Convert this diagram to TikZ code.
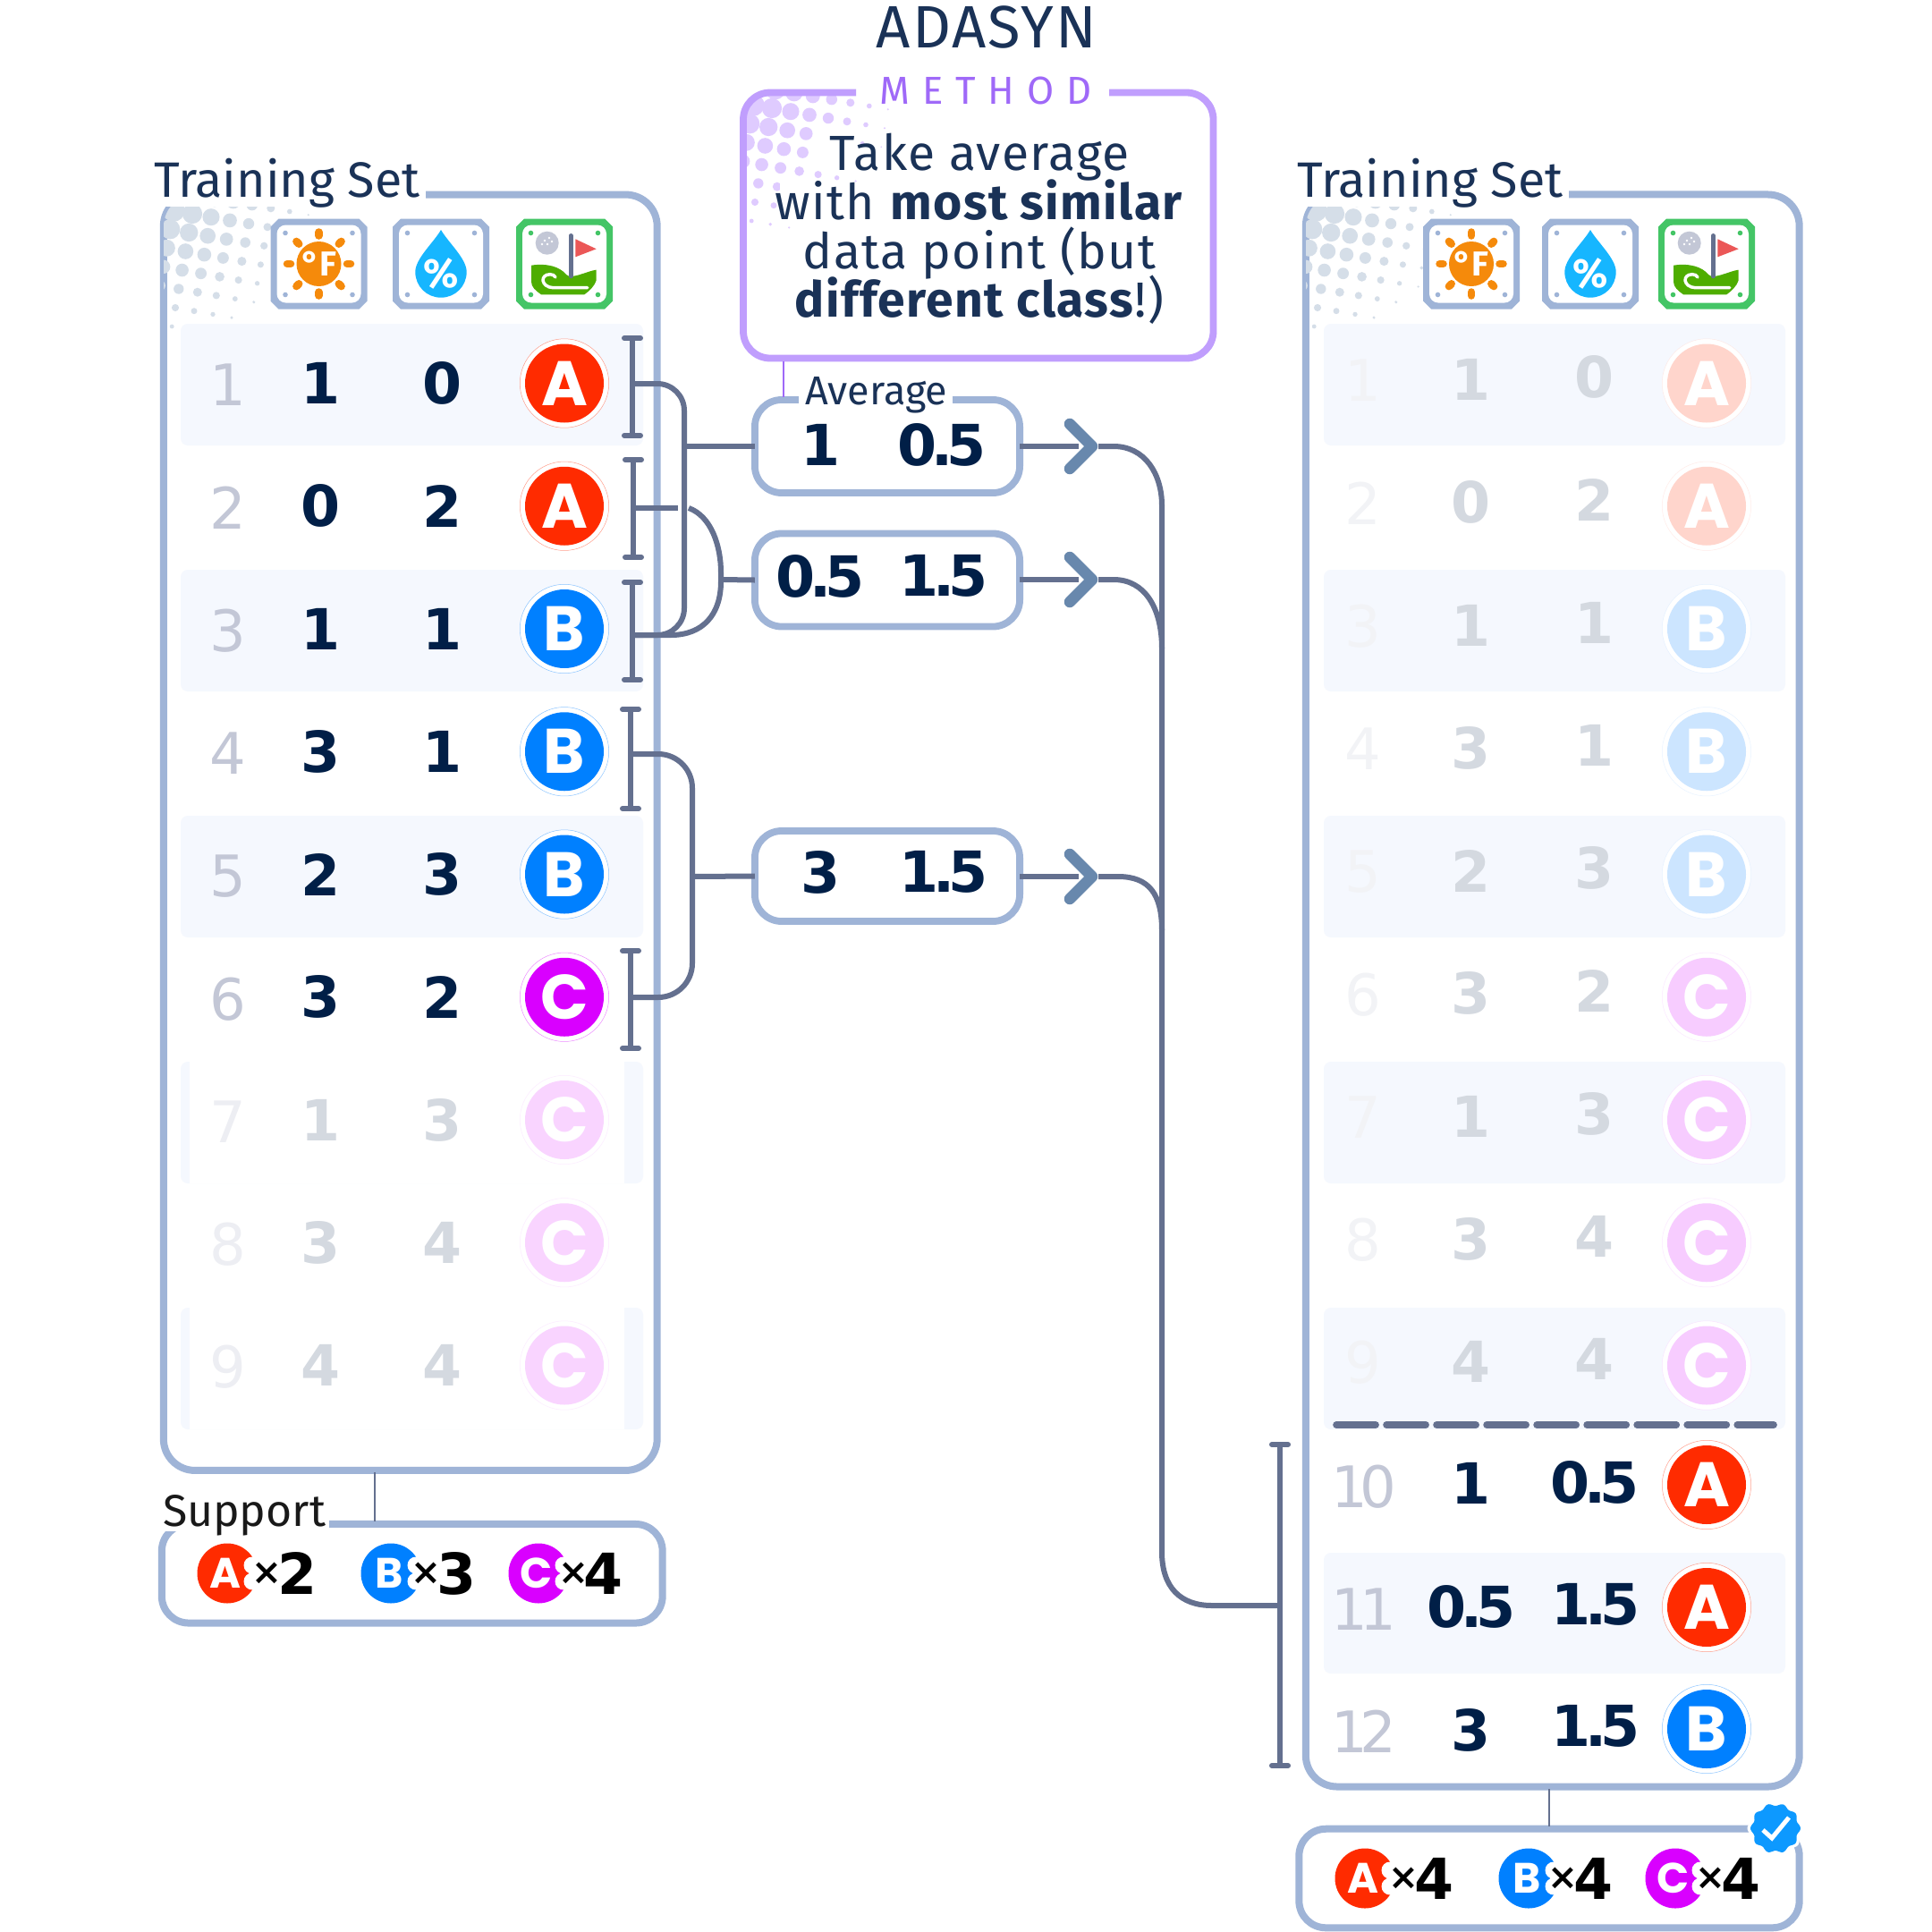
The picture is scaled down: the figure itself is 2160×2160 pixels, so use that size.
\documentclass[tikz,border=0pt]{standalone}
\usepackage{fontspec}
\setmainfont{Fira Sans}
\newfontfamily\digf{DejaVu Sans}
\newfontfamily\badgef{Poppins}
\newfontfamily\spacedf{Fira Sans}[LetterSpace=32]
\newfontfamily\bodyf{Fira Sans}[LetterSpace=2.5]
\newfontfamily\titlef{Fira Sans}[LetterSpace=3]
\definecolor{clsA}{HTML}{FF2B00}
\definecolor{clsB}{HTML}{0080FF}
\definecolor{clsC}{HTML}{D900FF}
\definecolor{panelc}{HTML}{9FB4D7}
\definecolor{bandc}{HTML}{F5F8FE}
\definecolor{linec}{HTML}{64708F}
\definecolor{navy}{HTML}{1A3257}
\definecolor{digc}{HTML}{011F47}
\definecolor{numc}{HTML}{C3C7D6}
\definecolor{purp}{HTML}{C09EFD}
\definecolor{purpd}{HTML}{9F69F8}
\definecolor{chev}{HTML}{6888AD}
\definecolor{greenb}{HTML}{44C566}
\definecolor{greend}{HTML}{D5DEE8}
\definecolor{purpl}{HTML}{DFCBFF}
\tikzset{
 panel/.style={draw=panelc,line width=.08cm,fill=white,rounded corners=.35cm,inner sep=0,outer sep=0},
 valbox/.style={draw=panelc,line width=.078cm,fill=white,rounded corners=.3cm,inner sep=0,outer sep=0,minimum width=2.96cm},
 wire/.style={draw=linec,line width=.06cm},
 bracketl/.style={draw=linec,line width=.06cm},
 capl/.style={draw=linec,line width=.06cm,line cap=round},
 chevl/.style={draw=chev,line width=.125cm,line cap=round,line join=round},
 thinl/.style={draw=linec,line width=.018cm},
 digit/.style={font=\digf\bfseries\fontsize{18}{20}\selectfont,inner sep=0,outer sep=0},
 rownum/.style={font=\digf\fontsize{18.2}{20}\selectfont,inner sep=0,outer sep=0},
 lab/.style={inner sep=0,outer sep=0,text=navy,anchor=base west},
}
\newcommand\pdot{\kern-2pt.\kern-2pt}
\newcommand\halftone[3]{%
 \foreach \i in {-2,...,7}{\foreach \j in {-2,...,7}{%
  \pgfmathsetmacro\dx{32+21*\i-3.8*\j}%
  \pgfmathsetmacro\dy{21+3.7*\i+21*\j}%
  \pgfmathsetmacro\rr{14.2-0.08*veclen(\dx,\dy)}%
  \pgfmathparse{\rr>0.8?1:0}%
  \ifnum\pgfmathresult=1 \fill[#3] (#1+\dx,#2+\dy) circle[radius=\rr];\fi
 }}}
\newcommand\badge[6]{% name x y letter pct radius
 \fill[white] (#2,#3) circle[radius=#6*1.13];
 \draw[cls#4!#5!white,draw opacity=.45,line width=.005cm] (#2,#3) circle[radius=#6*1.13];
 \fill[cls#4!#5!white] (#2,#3) circle[radius=#6];
 \node[inner sep=0,outer sep=0,text=white,font=\badgef\bfseries\fontsize{20}{22}\selectfont] (#1) at (#2,#3) {#4};}
\newcommand\chip[1]{% chamfered square base in colour #1
 \fill[#1] (-54,-41.5) -- (-45,-50.5) -- (45,-50.5) -- (54,-41.5) -- (54,41.5) -- (45,50.5) -- (-45,50.5) -- (-54,41.5) -- cycle;
 \fill[white,rounded corners=.1cm] (-47,-43.5) rectangle (47,43.5);
 \foreach \sx in {-1,1}{\foreach \sy in {-1,1}{\fill[#1] (37.5*\sx,34.5*\sy) circle[radius=2.8];}}}
\newcommand\sunicon[3]{\begin{scope}[shift={(#2,#3)}]
 \chip{panelc}
 \definecolor{sunc}{HTML}{F58A0B}
 \fill[sunc] (0,0) circle[radius=25];
 \foreach \a in {0,45,...,315}{\draw[sunc,line width=.085cm,line cap=round] (\a:31.5) -- (\a:35.5);}
 \node[inner sep=0,outer sep=0,text=white,font=\fontsize{11}{12}\selectfont\bfseries] (#1) at (0,0) {°F};
 \end{scope}}
\newcommand\dropicon[3]{\begin{scope}[shift={(#2,#3)}]
 \chip{panelc}
 \definecolor{dropc}{HTML}{16B6FF}
 \fill[dropc] (0,-38) .. controls (8,-24) and (28.7,-6) .. (28.7,9) .. controls (28.7,25) and (16,37.7) .. (0,37.7) .. controls (-16,37.7) and (-28.7,25) .. (-28.7,9) .. controls (-28.7,-6) and (-8,-24) .. cycle;
 \node[inner sep=0,outer sep=0,text=white,font=\fontsize{13}{14}\selectfont\bfseries] (#1) at (0,11) {\%};
 \end{scope}}
\newcommand\golficon[1]{\begin{scope}[shift={(#1)}]
 \chip{greenb}
 \fill[numc] (-19.3,-23.3) circle[radius=13];
 \foreach \p in {(-22,-26),(-17,-29),(-14,-25),(-19,-22),(-25,-22)}{\fill[white] \p circle[radius=1.3];}
 \definecolor{landc}{HTML}{4EAD00}
 \fill[landc] (-37,1.7) .. controls (-20,-1) and (-5,3) .. (2,12) .. controls (8,18) and (25,8) .. (35.7,6.7) -- (35.7,18.3) .. controls (33,26) and (28,30) .. (22.3,34.3) -- (-26,34.3) .. controls (-32,30) and (-37,26) .. (-37,20) -- cycle;
 \draw[white,line width=.035cm,line cap=round] (25.7,26.7) -- (-12.7,26.7) .. controls (-26,26) and (-28,12) .. (-16,11.7) .. controls (-13,11.7) and (-11,13) .. (-10,15);
 \draw[linec,line width=.045cm,line cap=round] (7.3,-31.7) -- (7.3,14);
 \definecolor{flagc}{HTML}{EB5757}
 \fill[flagc] (12.3,-27.7) -- (35.7,-16.7) -- (12.3,-7.7) -- cycle;
 \end{scope}}
\newcommand\supportitem[6]{% prefix badge-x letter x-x digit-x digit ; y via \supy
 \fill[cls#3] (#2,\supy) circle[radius=33.5];
 \node[inner sep=0,outer sep=0,text=white,font=\badgef\bfseries\fontsize{13.5}{15}\selectfont] (#1l) at (#2-2,\supy) {#3};
 \fill[white] (#2+28,\supy-9) circle[radius=9.5];
 \fill[white] (#2+28,\supy+9) circle[radius=9.5];
 \fill[white] (#4,\supy) circle[radius=14];
 \node[inner sep=0,outer sep=0,text=black,font=\digf\bfseries\fontsize{11.5}{13}\selectfont] (#1x) at (#4,\supy) {×};
 \node[digit,text=black] (#1d) at (#5,\supy) {#6};}
\begin{document}
\begin{tikzpicture}[x=0.01cm,y=-0.01cm]
\useasboundingbox (0,0) rectangle (2160,2160);
\fill[white] (0,0) rectangle (2160,2160);

%% ---------- title ----------
\node[inner sep=0,outer sep=0,text=navy,font=\titlef\fontsize{19}{20}\selectfont] (title) at (1103,30) {ADASYN};

%% ---------- method box ----------
\node[panel,draw=none,minimum width=5.25cm,minimum height=2.97cm,rounded corners=.3cm] (method) at (1093.75,252) {};
\begin{scope}
 \clip[rounded corners=.3cm] (831,103.5) rectangle (1356.5,400.5);
 \halftone{831}{100}{purpl}
\end{scope}
\fill[white] (912,145) rectangle (950,188);
\fill[white] (872,200) rectangle (915,240);
\draw[purp,line width=.078cm,rounded corners=.3cm] (957,103.5) -- (831,103.5) -- (831,400.5) -- (1356.5,400.5) -- (1356.5,103.5) -- (1240,103.5);
\node[inner sep=0,outer sep=0,text=purpd,font=\spacedf\fontsize{12.4}{14}\selectfont] (methodlab) at (1102,101) {METHOD};
\node[inner sep=0,outer sep=0,text=navy,align=center,font={\bodyf\fontsize{15.7}{15.55}\selectfont\lineskiplimit=-20pt}] (methodtext) at (1095,256) {Take average\\with \textbf{most similar}\\data point (but\\\textbf{different class}!)};

%% ---------- left panel ----------
\node[panel,minimum width=5.515cm,minimum height=14.255cm] (lp) at (458.75,930.75) {};
\begin{scope}
 \clip[rounded corners=.35cm] (183,218) rectangle (734.5,800);
 \halftone{183}{218}{greend}
\end{scope}
\fill[white] (170,190) rectangle (476,231);
\node[lab,font=\fontsize{15.8}{18}\selectfont] (lptitle) at (172,220) {Training Set};
\sunicon{lpf}{356.5}{295}
\dropicon{lph}{493}{295}
\golficon{631,295}
\foreach \rw in {1,3,5,7,9}{
 \pgfmathsetmacro\yy{430+137.5*(\rw-1)}
 \fill[bandc,rounded corners=.08cm] (202,\yy-68) rectangle (719,\yy+68);
}
\foreach \rw in {7,9}{
 \pgfmathsetmacro\yy{430+137.5*(\rw-1)}
 \fill[white] (212,\yy-68) rectangle (698,\yy+68);
}
\foreach \rw/\va/\vb/\cl/\pc/\npc in {1/1/0/A/100/100,2/0/2/A/100/100,3/1/1/B/100/100,4/3/1/B/100/100,5/2/3/B/100/100,6/3/2/C/100/100,7/1/3/C/17/30,8/3/4/C/17/30,9/4/4/C/17/30}{
 \pgfmathsetmacro\yy{428.5+137.25*(\rw-1)}
 \node[rownum,text=numc!\npc!white] (ln\rw) at (255,\yy+2) {\rw};
 \node[digit,text=digc!\pc!white] (la\rw) at (359,\yy) {\va};
 \node[digit,text=digc!\pc!white] (lb\rw) at (495,\yy) {\vb};
 \badge{lc\rw}{631}{\yy}{\cl}{\pc}{44}
}

%% ---------- support left ----------
\coordinate (lpdrop) at (419,1646);
\node[panel,rounded corners=.3cm,minimum width=5.595cm,minimum height=1.105cm] (ls) at (460.75,1759.25) {};
\coordinate (lsdrop) at (419,1701);
\draw[thinl] (lpdrop) -- (lsdrop);
\fill[white] (172,1665) rectangle (368,1712);
\node[lab,text=black!90!white,font=\fontsize{14.2}{16}\selectfont] (lstitle) at (182,1706) {Support};
\def\supy{1759}
\supportitem{sa}{254}{A}{298}{333}{2}
\supportitem{sb}{437}{B}{476}{511}{3}
\supportitem{sc}{602}{C}{641}{675}{4}

%% ---------- right panel ----------
\node[panel,minimum width=5.515cm,minimum height=17.79cm] (rp) at (1735.75,1107.5) {};
\begin{scope}
 \clip[rounded corners=.35cm] (1460,218) rectangle (2011.5,800);
 \halftone{1460}{218}{greend}
\end{scope}
\fill[white] (1448,190) rectangle (1754,231);
\node[lab,font=\fontsize{15.8}{18}\selectfont] (rptitle) at (1450,220) {Training Set};
\sunicon{rpf}{1645}{295}
\dropicon{rph}{1778}{295}
\golficon{1908,295}
\foreach \rw in {1,3,5,7,9}{
 \pgfmathsetmacro\yy{430+137.5*(\rw-1)}
 \fill[bandc,rounded corners=.08cm] (1480,\yy-68) rectangle (1996,\yy+68);
}
\fill[bandc,rounded corners=.08cm] (1480,1736) rectangle (1996,1871);
\foreach \rw/\va/\vb/\cl in {1/1/0/A,2/0/2/A,3/1/1/B,4/3/1/B,5/2/3/B,6/3/2/C,7/1/3/C,8/3/4/C,9/4/4/C}{
 \pgfmathsetmacro\yy{428.5+137.25*(\rw-1)}
 \node[rownum,text=numc!22!white] (rn\rw) at (1524,\yy-3) {\rw};
 \node[digit,text=digc!17!white] (ra\rw) at (1645,\yy-4) {\va};
 \node[digit,text=digc!17!white] (rb\rw) at (1783,\yy-7) {\vb};
 \badge{rc\rw}{1908}{\yy}{\cl}{20}{44}
}
\draw[linec,line width=.077cm,line cap=round,dash pattern=on .44cm off .12cm] (1494,1593) -- (1983,1593);
\node[rownum,text=numc] (rn10) at (1525,1662) {1\kern-2.5pt 0};
\node[digit,text=digc] (ra10) at (1645,1658) {1};
\node[digit,text=digc] (rb10) at (1783,1657) {0\pdot5};
\badge{rc10}{1908}{1660}{A}{100}{44}
\node[rownum,text=numc] (rn11) at (1525,1799) {1\kern-2.5pt 1};
\node[digit,text=digc] (ra11) at (1645,1796) {0\pdot5};
\node[digit,text=digc] (rb11) at (1784,1794) {1\pdot5};
\badge{rc11}{1908}{1797}{A}{100}{44}
\node[rownum,text=numc] (rn12) at (1525,1936) {1\kern-2.5pt 2};
\node[digit,text=digc] (ra12) at (1645,1934) {3};
\node[digit,text=digc] (rb12) at (1784,1930) {1\pdot5};
\badge{rc12}{1908}{1933}{B}{100}{44}

%% ---------- support right ----------
\coordinate (rpdrop) at (1732,2000);
\node[panel,rounded corners=.3cm,minimum width=5.59cm,minimum height=1.105cm] (rs) at (1732,2100) {};
\coordinate (rsdrop) at (1732,2042);
\draw[thinl] (rpdrop) -- (rsdrop);
\def\supy{2100}
\supportitem{ta}{1526}{A}{1569}{1604}{4}
\supportitem{tb}{1709}{B}{1747}{1782}{4}
\supportitem{tc}{1873}{C}{1912}{1947}{4}
\begin{scope}[shift={(1985,2044)}]
 \definecolor{checkc}{HTML}{0D99FF}
 \fill[white] plot[domain=0:360,samples=90,smooth] (\x:{30+1.5*cos(10*\x)}) -- cycle;
 \fill[checkc] plot[domain=0:360,samples=90,smooth] (\x:{26.5+1.5*cos(10*\x)}) -- cycle;
 \draw[white,line width=.05cm] (-14,2) -- (-4,11) -- (15,-12);
\end{scope}

%% ---------- value boxes ----------
\node[valbox,minimum height=1.04cm] (av1) at (992,499) {};
\node[valbox,minimum height=1.04cm] (av2) at (992,648.5) {};
\node[valbox,minimum height=1.01cm] (av3) at (992,979.5) {};
\draw[thinl,draw=purpd] (876,404) -- (876,444);
\fill[white] (893,418) rectangle (1065,456);
\node[lab,font=\fontsize{12.8}{14}\selectfont] (avlab) at (900,452) {Average};
\node[digit,text=digc] (v1a) at (918,497) {1};
\node[digit,text=digc] (v1b) at (1053,497) {0\pdot5};
\node[digit,text=digc] (v2a) at (917,644) {0\pdot5};
\node[digit,text=digc] (v2b) at (1055,644) {1\pdot5};
\node[digit,text=digc] (v3a) at (918,975) {3};
\node[digit,text=digc] (v3b) at (1055,975) {1\pdot5};

%% ---------- brackets ----------
\foreach \nm/\xx/\ya/\yb in {b1/707/378/487,b2/708/514/623,b3/707/651/760,b4/705/793/904,b6/705/1063/1172}{
 \coordinate (\nm t) at (\xx,\ya);
 \coordinate (\nm e) at (\xx,\yb);
 \draw[bracketl] (\nm t) -- (\nm e);
 \draw[capl] ([xshift=-.09cm]\nm t) -- ([xshift=.09cm]\nm t);
 \draw[capl] ([xshift=-.09cm]\nm e) -- ([xshift=.09cm]\nm e);
}
\coordinate (rbt) at (1431,1615);
\coordinate (rbe) at (1431,1974);
\draw[bracketl] (rbt) -- (rbe);
\draw[capl] ([xshift=-.09cm]rbt) -- ([xshift=.09cm]rbt);
\draw[capl] ([xshift=-.09cm]rbe) -- ([xshift=.09cm]rbe);

%% ---------- connectors ----------
\coordinate (j1a) at (707,429);
\coordinate (j2a) at (708,568);
\coordinate (j3a) at (707,710);
\coordinate (j4a) at (705,843);
\coordinate (j6a) at (705,1115);
\draw[wire,rounded corners=.3cm] (j1a) -- (765,429) -- (765,710) -- (j3a);
\draw[wire] (765,499) -- (av1.west);
\draw[wire] (j2a) -- (758,568);
\draw[wire] (770,568) .. controls (795,577) and (806,610) .. (806,640) -- (806,650) .. controls (806,688) and (785,710) .. (750,710) -- (j3a);
\draw[wire] (806,648) -- (av2.west);
\draw[wire,rounded corners=.38cm] (j4a) -- (774,843) -- (774,1115) -- (j6a);
\draw[wire] (774,980) -- (av3.west);
\coordinate (rbj) at (1431,1795);
\foreach \bx/\yy in {av1/499,av2/648,av3/980}{
 \coordinate (\bx s) at (1206,\yy);
 \coordinate (\bx t) at (1221,\yy);
 \draw[wire] (\bx.east |- \bx s) -- (\bx s);
 \draw[chevl] (1196,\yy-25) -- (\bx t) -- (1196,\yy+25);
}
\draw[wire] (1228,499) -- (1245,499) .. controls (1280,499) and (1299,530) .. (1299,565) -- (1299,1735) .. controls (1299,1775) and (1320,1795) .. (1355,1795) -- (rbj);
\draw[wire] (1228,648) -- (1245,648) .. controls (1280,648) and (1299,680) .. (1299,725);
\draw[wire] (1228,980) -- (1250,980) .. controls (1285,980) and (1299,1000) .. (1299,1040);
\end{tikzpicture}
\end{document}
